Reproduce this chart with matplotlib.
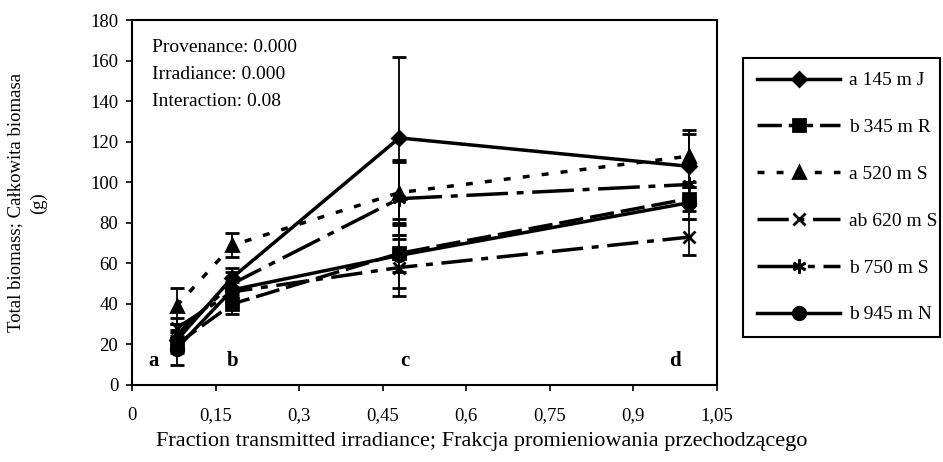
import matplotlib.pyplot as plt
from matplotlib.lines import Line2D
import numpy as np

plt.rcParams['font.family'] = ['Liberation Serif', 'DejaVu Serif']

# fraction of transmitted irradiance (4 light levels)
irradiance = [0.08, 0.18, 0.48, 1.0]

# provenance labels
labels = ['a 145 m J', 'b 345 m R', 'a 520 m S', 'ab 620 m S', 'b 750 m S', 'b 945 m N']

# mean total biomass (g)
j145 = [22, 53, 122, 108]
r345 = [20, 40, 65, 92]
s520 = [39, 69, 95, 113]
s620 = [28, 46, 58, 73]
s750 = [25, 50, 92, 99]
n945 = [18, 47, 64, 90]

# error bars
j145_err = [5, 5, 40, 16]
r345_err = [4, 5, 9, 6]
s520_err = [9, 6, 16, 13]
s620_err = [5, 5, 14, 9]
s750_err = [5, 6, 18, 10]
n945_err = [8, 6, 16, 8]

# letter groups at each irradiance level
group_letters = ['a', 'b', 'c', 'd']
group_x = [0.038, 0.18, 0.49, 0.975]

series = [j145, r345, s520, s620, s750, n945]
errors = [j145_err, r345_err, s520_err, s620_err, s750_err, n945_err]
markers = ['D', 's', '^', 'x', (6, 2, 0), 'o']
msizes = [7, 9, 9, 9, 10, 9]
dashes = [None, (7, 2), (2, 3.5), (9, 2.5, 2, 2.5), (12, 2.5, 2, 2.5), None]

fig = plt.figure(figsize=(9.43, 4.62), dpi=100)
ax = fig.add_axes([0.14, 0.1667, 0.62, 0.789])

handles = []
for vals, err, lab, mk, ms, ds in zip(series, errors, labels, markers, msizes, dashes):
    line, caps, bars = ax.errorbar(irradiance, vals, yerr=err, color='black', lw=2.5,
                                   marker=mk, markersize=ms, markeredgewidth=2,
                                   elinewidth=1.3, capsize=5, capthick=1.5)
    h = Line2D([], [], color='black', lw=2.5, marker=mk, markersize=ms, markeredgewidth=2)
    if ds is not None:
        line.set_dashes(ds)
        h.set_dashes(ds)
    handles.append(h)

# significance levels
ax.text(0.035, 0.95, 'Provenance: 0.000', transform=ax.transAxes, fontsize=14, va='top')
ax.text(0.035, 0.875, 'Irradiance: 0.000', transform=ax.transAxes, fontsize=14, va='top')
ax.text(0.035, 0.80, 'Interaction: 0.08', transform=ax.transAxes, fontsize=14, va='top')

for gx, g in zip(group_x, group_letters):
    ax.text(gx, 12, g, fontsize=15, fontweight='bold', ha='center', va='center')

ax.set_xlim(0, 1.05)
ax.set_ylim(0, 180)
xt = np.arange(0, 1.06, 0.15)
ax.set_xticks(xt)
ax.set_xticklabels(['0' if v == 0 else f'{v:.2f}'.rstrip('0').replace('.', ',') for v in xt])
ax.set_yticks(np.arange(0, 181, 20))
ax.tick_params(direction='out', length=4, width=1.2, labelsize=13.5)
ax.tick_params(axis='x', pad=12)
ax.tick_params(axis='y', pad=6)
for s in ax.spines.values():
    s.set_linewidth(1.5)

ax.set_xlabel('Fraction transmitted irradiance; Frakcja promieniowania przechodzącego',
              fontsize=16)
ax.xaxis.set_label_coords(0.598, -0.13)
ax.set_ylabel('Total biomass; Całkowita biomasa\n(g)', fontsize=13.5, linespacing=1.4)
ax.yaxis.set_label_coords(-0.145, 0.5)

leg = fig.legend(handles, labels, loc='upper left', bbox_to_anchor=(0.788, 0.268, 0.209, 0.606),
                 mode='expand', borderaxespad=0, fontsize=14, handlelength=4.3,
                 labelspacing=1.5, handletextpad=0.45, borderpad=0.7,
                 numpoints=1, fancybox=False, framealpha=1)
leg.get_frame().set_edgecolor('black')
leg.get_frame().set_linewidth(1.5)

fig.savefig('out.png', dpi=100)
